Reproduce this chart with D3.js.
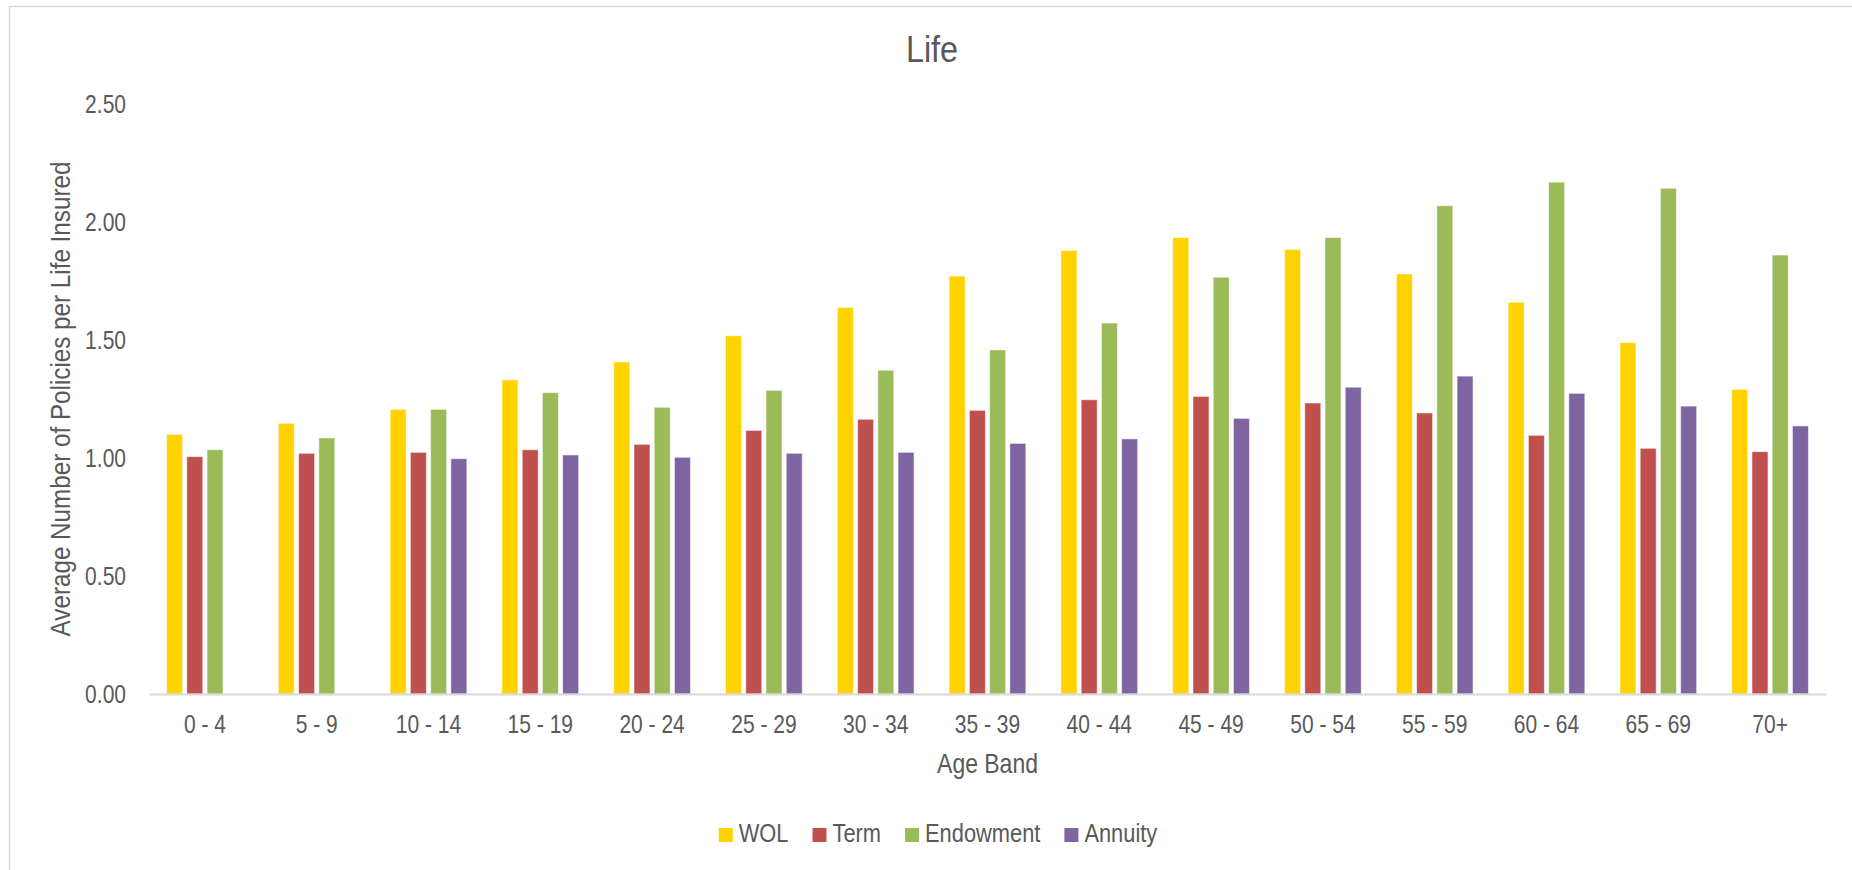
<!DOCTYPE html>
<html>
<head>
<meta charset="utf-8">
<script src="https://cdn.jsdelivr.net/npm/d3@7/dist/d3.min.js"></script>
<style>
  html, body { margin: 0; padding: 0; background: #fff; }
  svg { display: block; }
  text { font-family: 'Liberation Sans', Arial, sans-serif; fill: #595959; }
</style>
</head>
<body>
<svg id="chart" width="1852" height="870"></svg>
<script>
const ageBands = ["0 - 4","5 - 9","10 - 14","15 - 19","20 - 24","25 - 29","30 - 34","35 - 39","40 - 44","45 - 49","50 - 54","55 - 59","60 - 64","65 - 69","70+"];
const seriesNames = ["WOL","Term","Endowment","Annuity"];
const wolValues       = [1.100,1.147,1.206,1.331,1.407,1.518,1.638,1.771,1.879,1.934,1.884,1.780,1.660,1.489,1.291];
const termValues      = [1.006,1.020,1.024,1.035,1.058,1.117,1.164,1.202,1.247,1.261,1.233,1.191,1.096,1.041,1.027];
const endowmentValues = [1.035,1.085,1.206,1.277,1.215,1.287,1.372,1.458,1.572,1.766,1.934,2.069,2.169,2.143,1.860];
const annuityValues   = [null,null,0.997,1.013,1.003,1.020,1.024,1.062,1.081,1.168,1.300,1.347,1.274,1.220,1.136];
const yTicks = [0,0.5,1.0,1.5,2.0,2.5];
const colors = ["#FFD200","#C0504D","#9BBB59","#8064A2"];

const chartTitle = "Life";
const xTitle = "Age Band";
const yTitle = "Average Number of Policies per Life Insured";

const seriesValues = [wolValues, termValues, endowmentValues, annuityValues];

// horizontally condense text to mimic a narrow typeface
function condense(sel, f) {
  sel.each(function() {
    const w = this.getComputedTextLength();
    d3.select(this).attr("textLength", w * f).attr("lengthAdjust", "spacingAndGlyphs");
  });
}

const svg = d3.select("#chart");

// chart border (top/left visible; extends past window)
svg.append("rect")
  .attr("x", 9.5).attr("y", 6.5)
  .attr("width", 1900).attr("height", 900)
  .attr("fill", "none").attr("stroke", "#d9d9d9").attr("stroke-width", 1.5);

const plot = {left: 149, right: 1826, top: 104, bottom: 694};

const x0 = d3.scaleBand().domain(ageBands).range([plot.left, plot.right]).padding(0);
const bw = x0.bandwidth();
const groupMargin = bw * 0.157;
const x1 = d3.scaleBand().domain(seriesNames).range([groupMargin, bw - groupMargin]).paddingInner(0.208).paddingOuter(0);
const y = d3.scaleLinear().domain([0, 2.5]).range([plot.bottom, plot.top]);

// bars
const g = svg.append("g");
seriesNames.forEach((s, si) => {
  g.selectAll(null)
    .data(ageBands.map((a, i) => ({a, v: seriesValues[si][i]})).filter(d => d.v != null))
    .enter().append("rect")
    .attr("x", d => x0(d.a) + x1(s))
    .attr("y", d => y(d.v))
    .attr("width", x1.bandwidth())
    .attr("height", d => y(0) - y(d.v))
    .attr("fill", colors[si])
    .attr("stroke", "rgba(255,255,255,0.55)")
    .attr("stroke-width", 1);
});

// y axis
const yAxis = svg.append("g")
  .attr("transform", `translate(${plot.left},0)`)
  .call(d3.axisLeft(y).tickValues(yTicks).tickFormat(d3.format(".2f")).tickSize(0).tickPadding(23));
yAxis.select(".domain").remove();
yAxis.selectAll("text").style("font-size", "25px").attr("fill", "#595959").call(condense, 0.84);

// x axis
const xAxis = svg.append("g")
  .attr("transform", `translate(0,${plot.bottom})`)
  .call(d3.axisBottom(x0).tickSize(0).tickPadding(21));
xAxis.select(".domain").attr("stroke", "#d9d9d9").attr("stroke-width", 2);
xAxis.selectAll("text").style("font-size", "25px").attr("fill", "#595959").call(condense, 0.84);

// title
svg.append("text")
  .attr("x", 932).attr("y", 62)
  .attr("text-anchor", "middle")
  .style("font-size", "36px")
  .text(chartTitle)
  .call(condense, 0.9);

// axis titles
svg.append("text")
  .attr("x", (plot.left + plot.right) / 2).attr("y", 773)
  .attr("text-anchor", "middle")
  .style("font-size", "28px")
  .text(xTitle)
  .call(condense, 0.82);

svg.append("text")
  .attr("transform", `translate(70,${(plot.top + plot.bottom) / 2}) rotate(-90)`)
  .attr("text-anchor", "middle")
  .style("font-size", "28px")
  .text(yTitle)
  .call(condense, 0.865);

// legend
const legend = svg.append("g");
const items = legend.selectAll("g").data(seriesNames).enter().append("g");
items.append("rect").attr("width", 14).attr("height", 14).attr("y", -14)
  .attr("fill", (d, i) => colors[i]);
items.append("text").attr("x", 20).attr("y", 0).style("font-size", "26px").text(d => d);
let cx = 0;
items.each(function() {
  const t = d3.select(this).select("text");
  const tw = t.node().getComputedTextLength() * 0.84;
  t.attr("textLength", tw).attr("lengthAdjust", "spacingAndGlyphs");
  d3.select(this).attr("transform", `translate(${cx},0)`);
  cx += 20 + tw + 24;
});
const totalW = cx - 24;
legend.attr("transform", `translate(${938 - totalW / 2},842)`);
</script>
</body>
</html>
